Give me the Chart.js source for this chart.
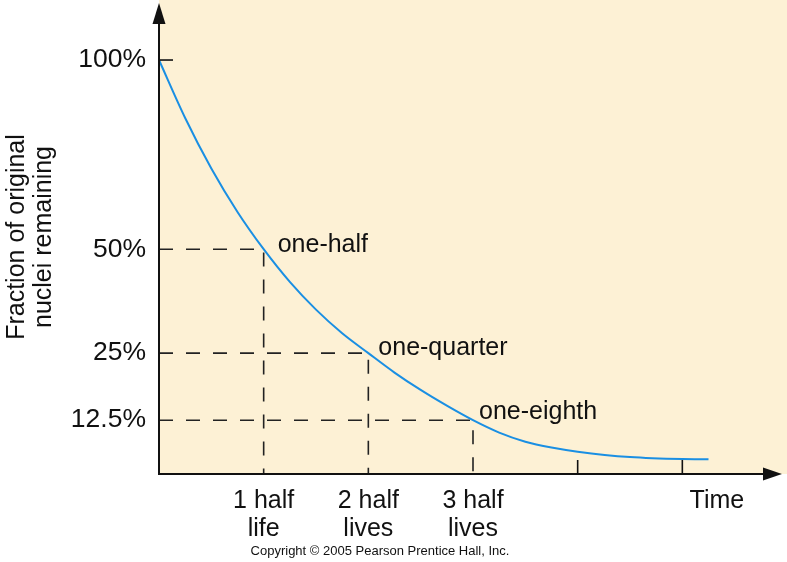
<!DOCTYPE html>
<html>
<head>
	<title>Half-life decay</title>
	<!-- Chart.js desde CDN -->
	<script src="https://cdn.jsdelivr.net/npm/chart.js@4.4.1/dist/chart.umd.min.js"></script>
	<style>
		body { margin: 0; background: #ffffff; }
	</style>
</head>
<body>
	<canvas id="chart" width="787" height="562"></canvas>
	<script>
	// datos (altura en unidades del eje, 100 = 100%)
	var halfLives = [0, 0.25, 0.5, 0.75, 1, 1.25, 1.5, 1.75, 2, 2.25, 2.5, 2.75, 3, 3.25, 3.5, 3.75, 4, 4.5, 5, 5.25];
	var remaining = [100, 86.0, 73.8, 63.3, 54.3, 46.4, 39.7, 34.0, 29.2, 24.5, 20.3, 16.5, 13.0, 10.0, 7.8, 6.4, 5.4, 4.1, 3.6, 3.55];

	var yTickValues = [100, 54.3, 29.2, 13.0];
	var yTickLabels = ['100%', '50%', '25%', '12.5%'];

	var xTickValues = [1, 2, 3, 5.33];
	var xTickLabels = [['1 half', 'life'], ['2 half', 'lives'], ['3 half', 'lives'], 'Time'];
	var xTickMarks = [4, 5];

	var markerTimes = [1, 2, 3];
	var markerLevels = [54.3, 29.2, 13.0];
	var markerNotes = ['one-half', 'one-quarter', 'one-eighth'];

	var beige = '#fdf1d5';
	var ink = '#111111';
	var fontFam = '"Liberation Sans", Arial, Helvetica, sans-serif';
	// desplazamiento de cada nota respecto a su punto (px)
	var noteShiftX = [14, 10, 6];
	var noteShiftY = [-4, -5, -8];

	var datasets = [{
		label: 'decay',
		data: halfLives.map(function(t, i){ return {x: t, y: remaining[i]}; }),
		borderColor: '#1a8fe3',
		borderWidth: 2,
		pointRadius: 0,
		cubicInterpolationMode: 'monotone',
		fill: false,
		clip: false
	}];
	// lineas punteadas hacia los ejes
	markerTimes.forEach(function(t, i){
		datasets.push({
			label: markerNotes[i],
			data: [{x: 0, y: markerLevels[i]}, {x: t, y: markerLevels[i]}, {x: t, y: 0}],
			borderColor: '#222222',
			borderWidth: 1.6,
			borderDash: [14, 13],
			pointRadius: 0,
			tension: 0,
			fill: false,
			clip: false
		});
	});

	//plugin para fondo, ejes con flechas y textos
	var decor = {
		id: 'decor',
		beforeDraw: function(chart){
			var ctx = chart.ctx, a = chart.chartArea;
			ctx.save();
			ctx.fillStyle = beige;
			ctx.fillRect(a.left, a.top, a.right - a.left, a.bottom - a.top);
			ctx.restore();
		},
		afterDraw: function(chart){
			var ctx = chart.ctx, a = chart.chartArea;
			var x = chart.scales.x, y = chart.scales.y;
			ctx.save();
			ctx.strokeStyle = ink;
			ctx.fillStyle = ink;
			ctx.lineWidth = 2;

			// eje y con flecha
			ctx.beginPath();
			ctx.moveTo(a.left, a.bottom + 1);
			ctx.lineTo(a.left, a.top + 20);
			ctx.stroke();
			ctx.beginPath();
			ctx.moveTo(a.left, a.top + 3);
			ctx.lineTo(a.left - 6.5, a.top + 24);
			ctx.lineTo(a.left + 6.5, a.top + 24);
			ctx.closePath();
			ctx.fill();

			// eje x con flecha
			ctx.beginPath();
			ctx.moveTo(a.left - 1, a.bottom);
			ctx.lineTo(a.right - 20, a.bottom);
			ctx.stroke();
			ctx.beginPath();
			ctx.moveTo(a.right - 5, a.bottom);
			ctx.lineTo(a.right - 24, a.bottom - 6.5);
			ctx.lineTo(a.right - 24, a.bottom + 6.5);
			ctx.closePath();
			ctx.fill();

			// marcas
			ctx.lineWidth = 1.6;
			xTickMarks.forEach(function(v){
				var px = x.getPixelForValue(v);
				ctx.beginPath();
				ctx.moveTo(px, a.bottom);
				ctx.lineTo(px, a.bottom - 14);
				ctx.stroke();
			});
			var py0 = y.getPixelForValue(yTickValues[0]);
			ctx.beginPath();
			ctx.moveTo(a.left, py0);
			ctx.lineTo(a.left + 14, py0);
			ctx.stroke();

			// etiquetas de los puntos
			ctx.font = '25px ' + fontFam;
			ctx.textAlign = 'left';
			ctx.textBaseline = 'middle';
			markerTimes.forEach(function(t, i){
				var px = x.getPixelForValue(t);
				var py = y.getPixelForValue(markerLevels[i]);
				ctx.fillText(markerNotes[i], px + noteShiftX[i], py + noteShiftY[i]);
			});

			// copyright
			ctx.font = '13px ' + fontFam;
			ctx.textAlign = 'center';
			ctx.fillText('Copyright \u00a9 2005 Pearson Prentice Hall, Inc.', 380, 551);
			ctx.restore();
		}
	};

	var canvas = document.getElementById('chart').getContext('2d');
	window.grafica = new Chart(canvas, {
		type: 'line',
		data: { datasets: datasets },
		plugins: [decor],
		options: {
			responsive: false,
			devicePixelRatio: 1,
			animation: false,
			layout: { padding: 0 },
			plugins: {
				legend: { display: false },
				tooltip: { enabled: false }
			},
			scales: {
				x: {
					type: 'linear',
					min: 0,
					max: 6,
					grid: { display: false, drawTicks: false },
					border: { display: false },
					afterBuildTicks: function(scale){
						scale.ticks = xTickValues.map(function(v){ return {value: v}; });
					},
					afterFit: function(scale){
						scale.height = 88;
						scale.paddingLeft = 0;
						scale.paddingRight = 0;
					},
					ticks: {
						autoSkip: false,
						maxRotation: 0,
						padding: 13,
						color: ink,
						font: { family: fontFam, size: 25, lineHeight: '28px' },
						callback: function(v, i){ return xTickLabels[i]; }
					}
				},
				y: {
					type: 'linear',
					min: 0,
					max: 114.5,
					grid: { display: false, drawTicks: false },
					border: { display: false },
					afterBuildTicks: function(scale){
						scale.ticks = yTickValues.map(function(v){ return {value: v}; });
					},
					afterFit: function(scale){
						scale.width = 159;
						scale.paddingTop = 0;
						scale.paddingBottom = 0;
					},
					ticks: {
						padding: 13,
						color: ink,
						font: { family: fontFam, size: 26.5 },
						callback: function(v, i){ return yTickLabels[i]; }
					},
					title: {
						display: true,
						text: ['Fraction of original', 'nuclei remaining'],
						color: ink,
						padding: { top: 4, bottom: 0 },
						font: { family: fontFam, size: 25, lineHeight: '27px' }
					}
				}
			}
		}
	});
	</script>
</body>
</html>
